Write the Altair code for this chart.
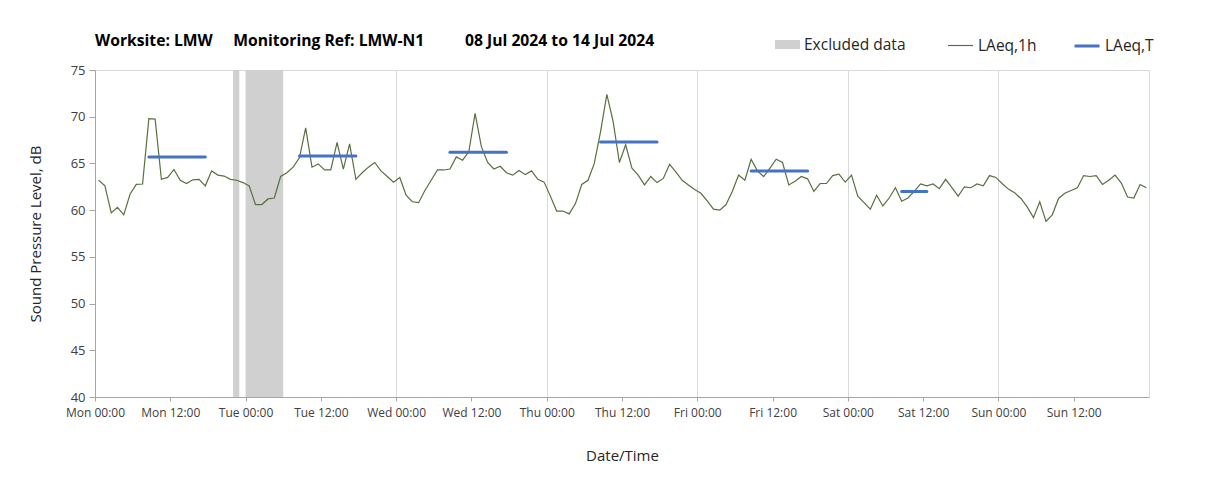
import altair as alt
import pandas as pd

# ---- data ----
start_time = "2024-07-08 00:35"
laeq_1h = [
    # Mon
    63.2, 62.6, 59.7, 60.3, 59.5, 61.7, 62.75, 62.8, 69.8, 69.75, 63.3, 63.5,
    64.35, 63.2, 62.85, 63.25, 63.3, 62.6, 64.2, 63.75, 63.65, 63.3, 63.2, 62.95,
    # Tue
    62.6, 60.6, 60.6, 61.2, 61.3, 63.6, 64.0, 64.6, 65.6, 68.8, 64.6, 64.95,
    64.3, 64.3, 67.25, 64.4, 67.1, 63.3, 64.0, 64.6, 65.1, 64.2, 63.6, 63.0,
    # Wed
    63.5, 61.6, 60.9, 60.8, 62.1, 63.2, 64.3, 64.3, 64.4, 65.7, 65.35, 66.25,
    70.35, 66.8, 65.1, 64.4, 64.7, 64.0, 63.75, 64.25, 63.8, 64.2, 63.3, 63.0,
    # Thu
    61.5, 59.9, 59.9, 59.6, 60.7, 62.75, 63.2, 65.0, 68.4, 72.4, 69.5, 65.1,
    67.0, 64.5, 63.75, 62.7, 63.6, 62.95, 63.4, 64.9, 64.1, 63.2, 62.7, 62.2,
    # Fri
    61.8, 61.0, 60.1, 60.0, 60.6, 62.0, 63.75, 63.2, 65.45, 64.2, 63.6, 64.5,
    65.45, 65.1, 62.7, 63.1, 63.6, 63.35, 62.0, 62.85, 62.85, 63.7, 63.85, 63.0,
    # Sat
    63.75, 61.5, 60.8, 60.1, 61.6, 60.45, 61.3, 62.4, 60.95, 61.3, 62.0, 62.8,
    62.6, 62.8, 62.3, 63.3, 62.4, 61.5, 62.5, 62.4, 62.8, 62.6, 63.7, 63.5,
    # Sun
    62.85, 62.25, 61.85, 61.25, 60.35, 59.2, 60.9, 58.8, 59.5, 61.25, 61.8, 62.1,
    62.4, 63.7, 63.6, 63.7, 62.75, 63.2, 63.75, 62.9, 61.4, 61.3, 62.75, 62.4,
]

laeq_t_start = ["2024-07-08 08:35", "2024-07-09 08:35", "2024-07-10 08:35",
                "2024-07-11 08:35", "2024-07-12 08:35", "2024-07-13 08:35"]
laeq_t_end = ["2024-07-08 17:35", "2024-07-09 17:35", "2024-07-10 17:35",
              "2024-07-11 17:35", "2024-07-12 17:35", "2024-07-13 12:35"]
laeq_t_level = [65.7, 65.8, 66.2, 67.3, 64.2, 62.0]

excl_start = ["2024-07-08 22:00", "2024-07-09 00:00"]
excl_end = ["2024-07-08 23:00", "2024-07-09 06:00"]

x_tick_values = [f"2024-07-{d:02d} {h}" for d in range(8, 15) for h in ("00:00", "12:00")]
y_ticks = [40, 45, 50, 55, 60, 65, 70, 75]

# ---- tables ----
times = pd.date_range(start_time, periods=len(laeq_1h), freq="h")
df_line = pd.DataFrame({"time": times.strftime("%Y-%m-%dT%H:%M:%S"),
                        "level": laeq_1h, "series": "LAeq,1h"})
df_t = pd.DataFrame({"start": [s.replace(" ", "T") for s in laeq_t_start],
                     "end": [s.replace(" ", "T") for s in laeq_t_end],
                     "level": laeq_t_level, "series": "LAeq,T"})
df_ex = pd.DataFrame({"start": [s.replace(" ", "T") for s in excl_start],
                      "end": [s.replace(" ", "T") for s in excl_end],
                      "series": "Excluded data"})

FONT = "Open Sans"
W, H = 1054, 327

x_scale = alt.Scale(domain=[alt.DateTime(year=2024, month=7, date=8, hours=0),
                            alt.DateTime(year=2024, month=7, date=15, hours=0)],
                    nice=False)
x_axis = alt.Axis(
    values=[alt.DateTime(year=int(v[:4]), month=int(v[5:7]), date=int(v[8:10]),
                         hours=int(v[11:13])) for v in x_tick_values],
    format="%a %H:%M", labelFontSize=12, labelColor="#404040", labelFont=FONT,
    tickSize=4, tickColor="#a6a6a6", domainColor="#a6a6a6", labelPadding=6,
    gridColor="#d9d9d9",
    gridOpacity={"condition": {"test": "hours(datum.value) == 0", "value": 1}, "value": 0},
    title="Date/Time", titleFontSize=15, titleFontWeight="normal", titleColor="#262626",
    titleFont=FONT, titlePadding=30, labelFlush=False, labelOverlap=False,
)
y_scale = alt.Scale(domain=[40, 75], nice=False, zero=False)
y_axis = alt.Axis(values=y_ticks, labelFontSize=13, labelColor="#404040", labelFont=FONT,
                  tickSize=6, tickColor="#a6a6a6", domainColor="#a6a6a6", labelPadding=4,
                  gridColor="#d9d9d9", title="Sound Pressure Level, dB", titleFontSize=15,
                  titleFontWeight="normal", titleColor="#262626", titleFont=FONT,
                  titlePadding=27)

def leg(x, y, symbol, stroke_w):
    return alt.Legend(title=None, orient="none", legendX=x, legendY=y,
                      symbolType=symbol, symbolSize=625, symbolStrokeWidth=stroke_w,
                      labelFontSize=15.5, labelFont=FONT, labelColor="#262626",
                      labelOffset=4, padding=0)

LEG_Y = -38

excluded = alt.Chart(df_ex).mark_rect(opacity=1).encode(
    x=alt.X("start:T", scale=x_scale, axis=x_axis, title="Date/Time"),
    x2="end:T",
    y=alt.Y(datum=75, scale=y_scale, axis=y_axis, title="Sound Pressure Level, dB"),
    y2=alt.datum(40),
    color=alt.Color("series:N", scale=alt.Scale(domain=["Excluded data"], range=["#d0d0d0"]),
                    legend=leg(680, LEG_Y, "M-1,-0.36H1V0.36H-1Z", 0)),
)

line = alt.Chart(df_line).mark_line(strokeWidth=1.2).encode(
    x=alt.X("time:T", scale=x_scale, axis=x_axis, title="Date/Time"),
    y=alt.Y("level:Q", scale=y_scale, axis=y_axis, title="Sound Pressure Level, dB"),
    color=alt.Color("series:N", scale=alt.Scale(domain=["LAeq,1h"], range=["#587040"]),
                    legend=leg(852, LEG_Y, "stroke", 1.2)),
)

laeq_t = alt.Chart(df_t).mark_rule(strokeWidth=3, strokeCap="round").encode(
    x=alt.X("start:T", scale=x_scale, axis=x_axis, title="Date/Time"),
    x2="end:T",
    y=alt.Y("level:Q", scale=y_scale, axis=y_axis, title="Sound Pressure Level, dB"),
    color=alt.Color("series:N", scale=alt.Scale(domain=["LAeq,T"], range=["#4472c4"]),
                    legend=leg(978, LEG_Y, "stroke", 3)),
)

NB = "\u00a0"
title_text = ("Worksite: LMW" + NB * 5 + "Monitoring Ref: LMW-N1" + NB * 10
              + "08 Jul 2024 to 14 Jul 2024")

chart = alt.layer(excluded, line, laeq_t).resolve_scale(
    color="independent"
).resolve_legend(color="independent").properties(
    width=W, height=H,
    title=alt.TitleParams(title_text, anchor="start", frame="group", fontSize=15.7,
                          fontWeight="bold", font=FONT, color="#000000", offset=22,
                          dy=40),
    autosize=alt.AutoSizeParams(type="none"),
    padding={"left": 87, "top": 62, "right": 50, "bottom": 80},
    background="white",
).configure_view(stroke="#d9d9d9")

chart.save("out.html", embed_options={"renderer": "svg", "actions": False})
